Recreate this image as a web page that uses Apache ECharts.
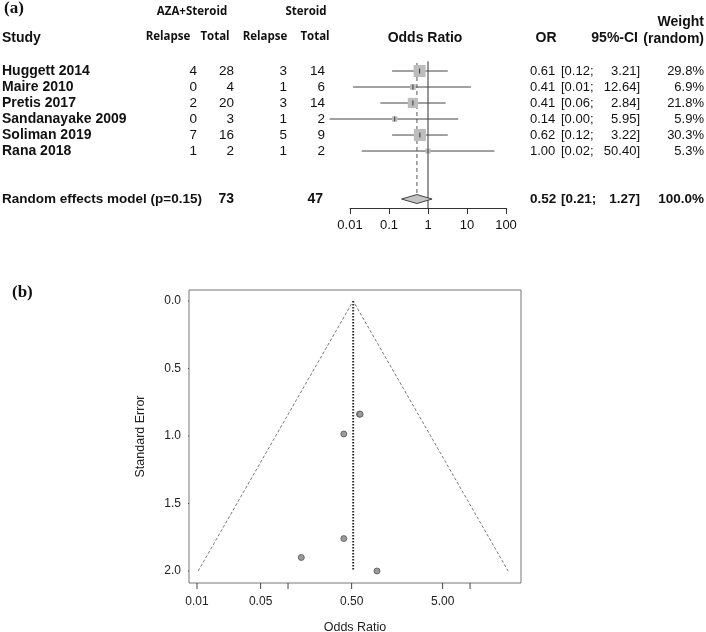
<!DOCTYPE html>
<html><head><meta charset="utf-8">
<script src="https://cdn.jsdelivr.net/npm/echarts@6/dist/echarts.min.js"></script>
<style>html,body{margin:0;padding:0;background:#fff}#c{width:706px;height:632px}</style>
</head><body><div id="c"></div>
<script>
// ---- Forest plot data ----
const studies = ["Huggett 2014","Maire 2010","Pretis 2017","Sandanayake 2009","Soliman 2019","Rana 2018"];
const azaRelapse = [4,0,2,0,7,1];
const azaTotal = [28,4,20,3,16,2];
const steRelapse = [3,1,3,1,5,1];
const steTotal = [14,6,14,2,9,2];
const oddsRatio = [0.61,0.41,0.41,0.14,0.62,1.00];
const ciLower = [0.12,0.012,0.06,0.003,0.12,0.02];
const ciUpper = [3.21,12.64,2.84,5.95,3.22,50.40];
const weights = [29.8,6.9,21.8,5.9,30.3,5.3];
const pooledLabel = "Random effects model (p=0.15)";
const pooledOR = 0.52, pooledLower = 0.21, pooledUpper = 1.27;
const pooledAzaTotal = 73, pooledSteTotal = 47, pooledWeight = 100.0;
const forestTickValues = [0.01,0.1,1,10,100];
const forestTickLabels = ["0.01","0.1","1","10","100"];

// ---- Funnel plot data ----
const funnelOR = [0.61,0.41,0.41,0.14,0.62,0.95];
const funnelSE = [0.838,1.76,0.985,1.90,0.838,2.0];
const funnelEdgeOR = [0.0103,0.52,26.2];
const funnelEdgeSE = [2,0,2];
const funnelTickValues = [0.01,0.05,0.1,0.5,5,10];
const funnelTickLabels = ["0.01","0.05","","0.50","5.00",""];
const seTickValues = [0,0.5,1,1.5,2];
const seTickLabels = ["0.0","0.5","1.0","1.5","2.0"];

const L = Math.log10;
const SANS = "'Liberation Sans', Arial, sans-serif";
const HEAD = "'Open Sans', sans-serif";
const TXT = '#111';
const SUMMARY_ROW = 8;
const FX_MIN = -2.088, FX_MAX = 1.56, FY_MIN = -0.0815, FY_MAX = 2.089;
const FUNNEL_W = 332, FUNNEL_H = 293, TICK_PX = 6;

const chart = echarts.init(document.getElementById('c'), null, {renderer:'canvas'});

function lookup(vals, labels, v){
  for (let i=0;i<vals.length;i++) if (Math.abs(L(vals[i])-v)<1e-6) return labels[i];
  return '';
}

function tableItem(params, api){
  const i = params.dataIndex;
  const y = api.coord([0, api.value(1)])[1];
  const kids = [];
  function t(text, x, align, bold, size){
    kids.push({type:'text', x:x, y:y, style:{text:String(text), align:align, verticalAlign:'middle',
      fontFamily:SANS, fontWeight:bold?'bold':'normal', fontSize:size||14, fill:TXT}});
  }
  if (i < studies.length){
    t(studies[i], 2, 'left', true, 14);
    t(azaRelapse[i], 197, 'right', false, 13.5);
    t(azaTotal[i], 234, 'right', false, 13.5);
    t(steRelapse[i], 287, 'right', false, 13.5);
    t(steTotal[i], 325, 'right', false, 13.5);
    t(oddsRatio[i].toFixed(2), 530, 'left', false, 13);
    t('[' + ciLower[i].toFixed(2) + ';', 561, 'left', false, 13);
    t(ciUpper[i].toFixed(2) + ']', 640, 'right', false, 13);
    t(weights[i].toFixed(1) + '%', 704, 'right', false, 13);
  } else {
    t(pooledLabel, 2, 'left', true, 13.5);
    t(pooledAzaTotal, 234, 'right', true, 14);
    t(pooledSteTotal, 323, 'right', true, 14);
    t(pooledOR.toFixed(2), 530, 'left', true, 13.5);
    t('[' + pooledLower.toFixed(2) + ';', 561, 'left', true, 13.5);
    t(pooledUpper.toFixed(2) + ']', 640, 'right', true, 13.5);
    t(pooledWeight.toFixed(1) + '%', 704, 'right', true, 13.5);
  }
  return {type:'group', children:kids};
}

const tableData = studies.map((s,i)=>[0,i]).concat([[0,SUMMARY_ROW]]);
const ciData = studies.map((s,i)=>[L(ciLower[i]), L(ciUpper[i]), i]);
const boxData = studies.map((s,i)=>[L(oddsRatio[i]), i, weights[i]]);

// funnel axis tick marks as short line series (one per tick)
const kx = (FX_MAX-FX_MIN)/FUNNEL_W, ky = (FY_MAX-FY_MIN)/FUNNEL_H;
const tickStyle = {color:'#444', width:1};
const tickSeries = funnelTickValues.map(v=>({type:'line', xAxisIndex:1, yAxisIndex:1, symbol:'none', clip:false, silent:true, z:5,
    data:[[L(v), FY_MAX],[L(v), FY_MAX + TICK_PX*ky]], lineStyle:tickStyle}))
  .concat(seTickValues.map(v=>({type:'line', xAxisIndex:1, yAxisIndex:1, symbol:'none', clip:false, silent:true, z:5,
    data:[[FX_MIN, v],[FX_MIN - TICK_PX*kx, v]], lineStyle:tickStyle})));

const option = {
  animation:false,
  backgroundColor:'#fff',
  grid:[
    {left:350, top:71, width:156, height:137, outerBoundsMode:'none', containLabel:false},
    {left:189, top:290, width:FUNNEL_W, height:FUNNEL_H, outerBoundsMode:'none', containLabel:false,
      show:true, borderColor:'#777', borderWidth:1, backgroundColor:'transparent'}
  ],
  xAxis:[
    {gridIndex:0, type:'value', min:-2, max:2, interval:1, position:'bottom',
      axisLine:{show:true, onZero:false, lineStyle:{color:'#333', width:1}},
      axisTick:{show:true, length:6, lineStyle:{color:'#333'}},
      axisLabel:{margin:11, fontSize:13, fontFamily:SANS, color:TXT,
        formatter:v=>lookup(forestTickValues, forestTickLabels, v)},
      splitLine:{show:false}},
    {gridIndex:1, type:'value', min:FX_MIN, max:FX_MAX, position:'bottom',
      axisLine:{show:false, onZero:false},
      axisTick:{show:false},
      axisLabel:{margin:13, fontSize:12, fontFamily:SANS, color:'#222',
        customValues:funnelTickValues.filter((v,i)=>funnelTickLabels[i]!=='').map(L),
        formatter:v=>lookup(funnelTickValues, funnelTickLabels, v)},
      splitLine:{show:false},
      name:'Odds Ratio', nameLocation:'middle', nameGap:38,
      nameTextStyle:{fontSize:12.5, fontFamily:SANS, color:'#222'}}
  ],
  yAxis:[
    {gridIndex:0, type:'value', min:0, max:8.56, inverse:true, show:false},
    {gridIndex:1, type:'value', min:FY_MIN, max:FY_MAX, inverse:true, position:'left',
      axisLine:{show:false, onZero:false},
      axisTick:{show:false},
      axisLabel:{margin:8, fontSize:12, fontFamily:SANS, color:'#222', customValues:seTickValues,
        formatter:v=>{const k=seTickValues.findIndex(t=>Math.abs(t-v)<1e-6);return k>=0?seTickLabels[k]:'';}},
      splitLine:{show:false},
      name:'Standard Error', nameLocation:'middle', nameGap:42,
      nameTextStyle:{fontSize:12.5, fontFamily:SANS, color:'#222'}}
  ],
  graphic:[
    {type:'text', left:4, top:0, style:{text:'(a)', font:"bold 17px 'Liberation Serif', serif", fill:'#111'}},
    {type:'text', left:12, top:284, style:{text:'(b)', font:"bold 17px 'Liberation Serif', serif", fill:'#111'}},
    {type:'text', x:192, y:12, style:{text:'AZA+Steroid', align:'center', verticalAlign:'middle', font:"bold 11.5px "+HEAD, fill:TXT}},
    {type:'text', x:306, y:12, style:{text:'Steroid', align:'center', verticalAlign:'middle', font:"bold 11.5px "+HEAD, fill:TXT}},
    {type:'text', x:168, y:37, style:{text:'Relapse', align:'center', verticalAlign:'middle', font:"bold 11.5px "+HEAD, fill:TXT}},
    {type:'text', x:215, y:37, style:{text:'Total', align:'center', verticalAlign:'middle', font:"bold 11.5px "+HEAD, fill:TXT}},
    {type:'text', x:265, y:37, style:{text:'Relapse', align:'center', verticalAlign:'middle', font:"bold 11.5px "+HEAD, fill:TXT}},
    {type:'text', x:315, y:37, style:{text:'Total', align:'center', verticalAlign:'middle', font:"bold 11.5px "+HEAD, fill:TXT}},
    {type:'text', x:2, y:38, style:{text:'Study', align:'left', verticalAlign:'middle', font:"bold 14px "+SANS, fill:TXT}},
    {type:'text', x:425, y:38, style:{text:'Odds Ratio', align:'center', verticalAlign:'middle', font:"bold 14px "+SANS, fill:TXT}},
    {type:'text', x:546, y:38, style:{text:'OR', align:'center', verticalAlign:'middle', font:"bold 14px "+SANS, fill:TXT}},
    {type:'text', x:638, y:38, style:{text:'95%-CI', align:'right', verticalAlign:'middle', font:"bold 14px "+SANS, fill:TXT}},
    {type:'text', x:704, y:22, style:{text:'Weight', align:'right', verticalAlign:'middle', font:"bold 14px "+SANS, fill:TXT}},
    {type:'text', x:704, y:39, style:{text:'(random)', align:'right', verticalAlign:'middle', font:"bold 14px "+SANS, fill:TXT}}
  ],
  series:[
    {type:'line', xAxisIndex:0, yAxisIndex:0, data:[[0,-0.6],[0,8.56]], symbol:'none', clip:false, z:1,
      lineStyle:{color:'#333', width:1}, silent:true},
    {type:'line', xAxisIndex:0, yAxisIndex:0, data:[[L(pooledOR),-0.5],[L(pooledOR),SUMMARY_ROW]], symbol:'none', clip:false, z:1,
      lineStyle:{color:'#555', width:1, type:[4,3]}, silent:true},
    {type:'custom', xAxisIndex:0, yAxisIndex:0, data:ciData, clip:false, z:2, silent:true,
      encode:{x:[0,1], y:2},
      renderItem:(p,api)=>{
        const a = api.coord([api.value(0), api.value(2)]);
        const b = api.coord([api.value(1), api.value(2)]);
        return {type:'line', shape:{x1:a[0], y1:a[1], x2:b[0], y2:b[1]}, style:{stroke:'#444', lineWidth:1}};
      }},
    {type:'custom', xAxisIndex:0, yAxisIndex:0, data:boxData, clip:false, z:3, silent:true,
      encode:{x:0, y:1},
      renderItem:(p,api)=>{
        const c = api.coord([api.value(0), api.value(1)]);
        const s = Math.sqrt(api.value(2))*2.2;
        return {type:'group', children:[
          {type:'rect', shape:{x:c[0]-s/2, y:c[1]-s/2, width:s, height:s}, style:{fill:'#bdbdbd'}},
          {type:'line', shape:{x1:c[0], y1:c[1]-2.5, x2:c[0], y2:c[1]+2.5}, style:{stroke:'#333', lineWidth:1}}
        ]};
      }},
    {type:'custom', xAxisIndex:0, yAxisIndex:0, data:[[L(pooledLower), L(pooledOR), L(pooledUpper), SUMMARY_ROW]], clip:false, z:3, silent:true,
      encode:{x:[0,2], y:3},
      renderItem:(p,api)=>{
        const r = api.value(3);
        const pts = [api.coord([api.value(0), r]), api.coord([api.value(1), r-0.28]), api.coord([api.value(2), r]), api.coord([api.value(1), r+0.28])];
        return {type:'polygon', shape:{points:pts}, style:{fill:'#c4c4c4', stroke:'#444', lineWidth:1}};
      }},
    {type:'custom', xAxisIndex:0, yAxisIndex:0, data:tableData, clip:false, z:4, silent:true,
      encode:{x:0, y:1}, renderItem:tableItem},
    {type:'line', xAxisIndex:1, yAxisIndex:1, data:funnelEdgeOR.map((v,i)=>[L(v), funnelEdgeSE[i]]), symbol:'none', z:2, silent:true,
      lineStyle:{color:'#555', width:0.8, type:[3,2]}},
    {type:'line', xAxisIndex:1, yAxisIndex:1, data:[[L(pooledOR),0],[L(pooledOR),2]], symbol:'none', z:2, silent:true,
      lineStyle:{color:'#333', width:2, type:[1.5,1.5]}},
    {type:'scatter', xAxisIndex:1, yAxisIndex:1, data:funnelOR.map((v,i)=>[L(v), funnelSE[i]]), symbolSize:6, z:3, silent:true,
      itemStyle:{color:'#9a9a9a', borderColor:'#555', borderWidth:0.8, opacity:1}}
  ].concat(tickSeries)
};
chart.setOption(option);
</script>
</body></html>
